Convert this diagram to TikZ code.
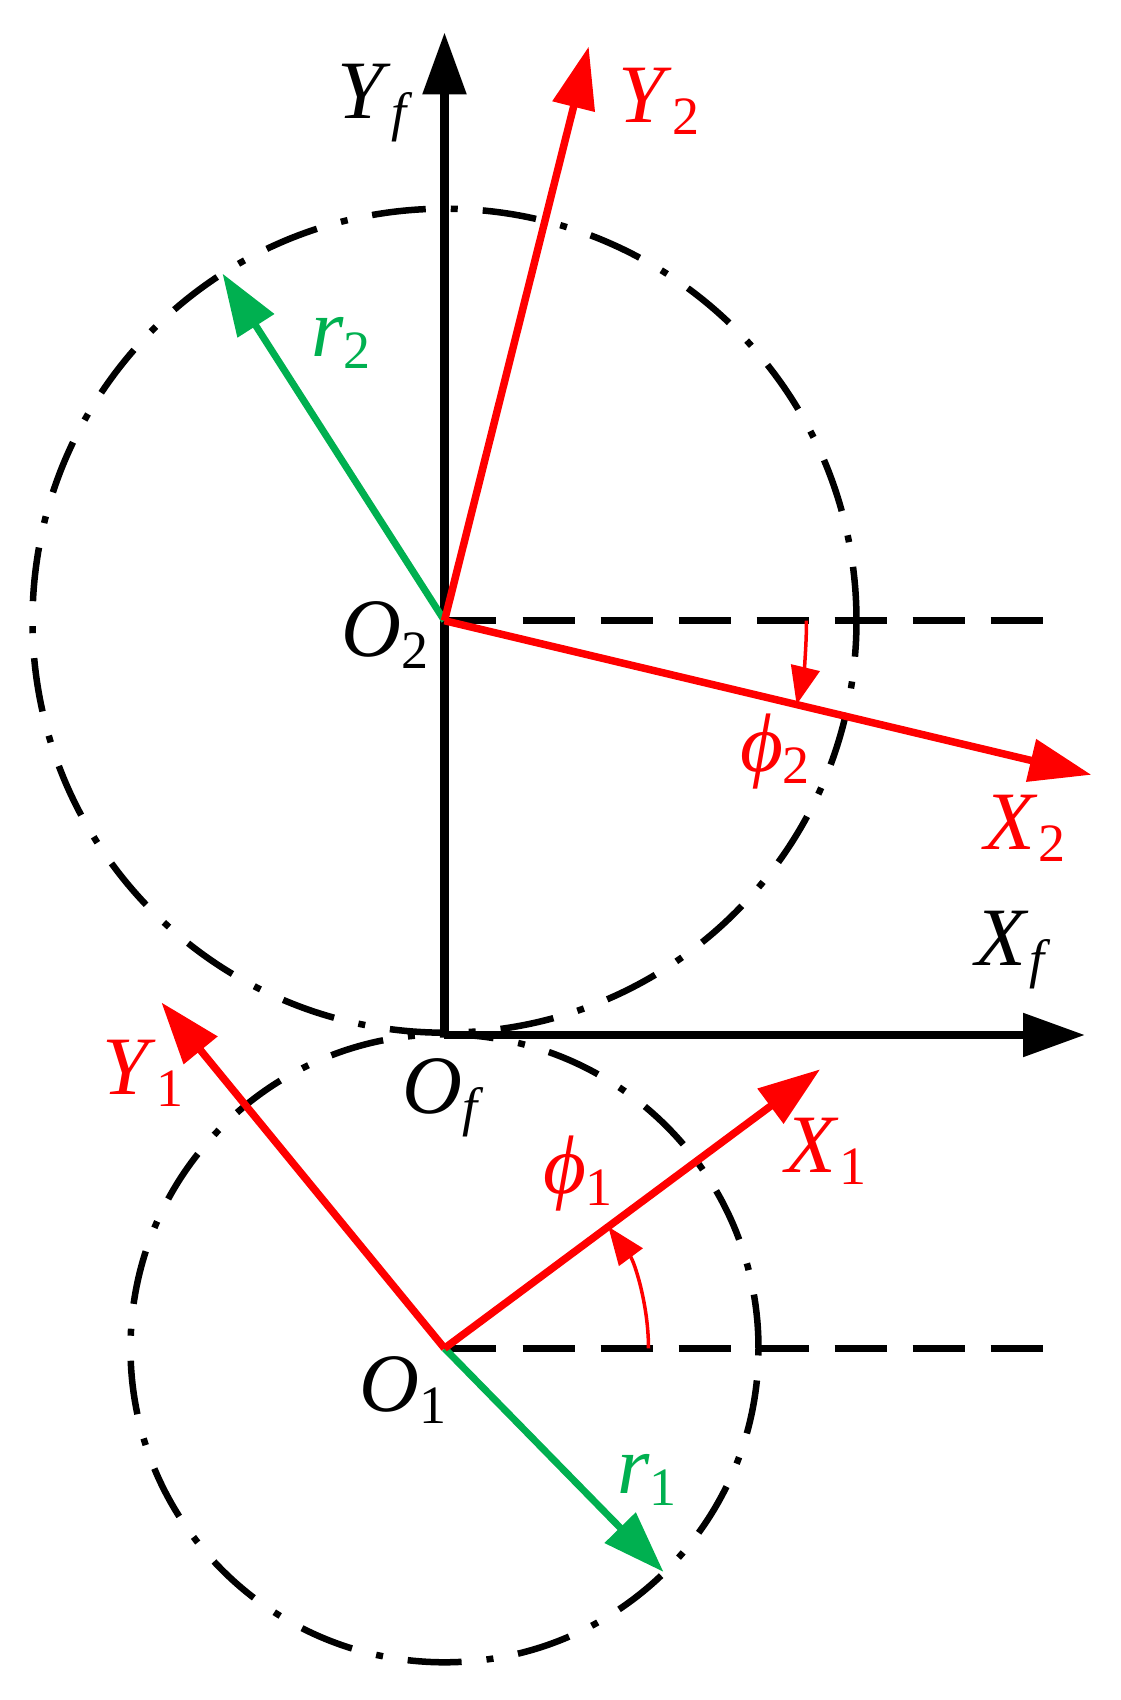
\documentclass[tikz,border=0pt]{standalone}
\usepackage{fontspec}
\setmainfont{Liberation Serif}
\usetikzlibrary{calc,arrows.meta}
\definecolor{figred}{RGB}{255,0,0}
\definecolor{figgreen}{RGB}{0,176,80}
\newcommand{\lab}[2]{\textit{#1}\raisebox{-12pt}{\fontsize{54}{54}\selectfont #2}}
\tikzset{
  every node/.style={font=\fontsize{83}{90}\selectfont,inner sep=0pt},
  bigtip/.style={-{Triangle[length=62pt,width=42pt]}},
  axisline/.style={bigtip,line width=8.5pt},
  redvec/.style={bigtip,line width=7.5pt,figred},
  greenvec/.style={bigtip,line width=7pt,figgreen},
  anglearc/.style={-{Triangle[length=38pt,width=29pt]},line width=3.5pt,figred},
  refline/.style={line width=7pt,dash pattern=on 52pt off 26pt},
  pitchcircle/.style={line width=6.5pt,dash pattern=on 54pt off 25pt on 7pt off 25pt}
}

\begin{document}
\begin{tikzpicture}[x=1pt,y=1pt]
  \useasboundingbox (-444.5,-665) rectangle (675.5,1035);
  \coordinate (Of) at (0,0);
  \coordinate (O2) at (0,414.3);
  \coordinate (O1) at (0,-313.3);
  \coordinate (Yf) at (0,1002.7);
  \coordinate (Xf) at (640.5,0);
  \coordinate (Y2) at ($(O2)+(75.9:592pt)$);
  \coordinate (X2) at ($(O2)+(-13.4:665pt)$);
  \coordinate (R2) at ($(O2)+(122.6:412pt)$);
  \coordinate (E2) at ($(O2)+(598pt,0)$);
  \coordinate (Y1) at ($(O1)+(129.3:447pt)$);
  \coordinate (X1) at ($(O1)+(36.6:468pt)$);
  \coordinate (R1) at ($(O1)+(-45.6:313pt)$);
  \coordinate (E1) at ($(O1)+(598pt,0)$);

  % pitch circles
  \draw[pitchcircle] (O2) circle (412pt)
                     (O1) circle (314pt);
  \draw[refline] (O2) -- (E2)
                 (O1) -- (E1);

  % fixed frame
  \draw[axisline] (Of) -- (Yf);
  \draw[axisline] (Of) -- (Xf);

  % moving frames
  \draw[greenvec] (O2) -- (R2);
  \draw[greenvec] (O1) -- (R1);
  \draw[redvec] (O2) -- (Y2);
  \draw[redvec] (O2) -- (X2);
  \draw[redvec] (O1) -- (Y1);
  \draw[redvec] (O1) -- (X1);
  \draw[anglearc] ($(O2)+(362pt,0)$) arc[start angle=0,end angle=-13.4,radius=362pt];
  \draw[anglearc] ($(O1)+(204pt,0)$) arc[start angle=0,end angle=36.6,radius=204pt];

  \node (lYf) at (-69.5,932) {\lab{Y}{\textit{f}}};
  \node (lXf) at (568.5,85) {\lab{X}{\textit{f}}};
  \node (lOf) at (-1.5,-63) {\lab{O}{\textit{f}}};
  \node (lO2) at (-59.5,400) {\lab{O}{2}};
  \node (lO1) at (-41.5,-355) {\lab{O}{1}};
  \node[text=figred] (lY2) at (214.5,934) {\lab{Y}{2}};
  \node[text=figred] (lX2) at (580.5,207) {\lab{X}{2}};
  \node[text=figred] (lp2) at (330.5,283) {\lab{ϕ}{2}};
  \node[text=figred] (lY1) at (-301.5,-38) {\lab{Y}{1}};
  \node[text=figred] (lX1) at (381.5,-116) {\lab{X}{1}};
  \node[text=figred] (lp1) at (133.5,-139) {\lab{ϕ}{1}};
  \node[text=figgreen] (lr2) at (-103.5,692) {\lab{r}{2}};
  \node[text=figgreen] (lr1) at (202.5,-445) {\lab{r}{1}};
\end{tikzpicture}
\end{document}
